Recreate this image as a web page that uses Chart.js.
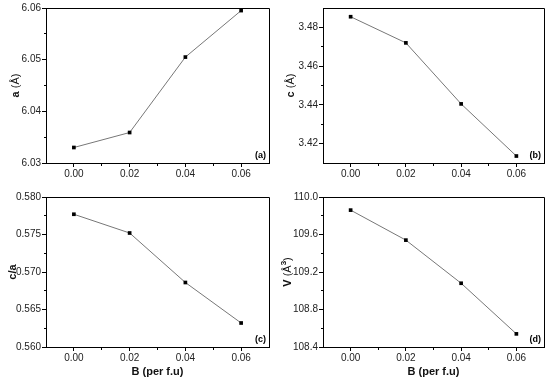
<!DOCTYPE html>
<html><head><meta charset="utf-8">
<script src="https://cdn.jsdelivr.net/npm/chart.js@4.4.0/dist/chart.umd.min.js"></script>
<style>
html,body{margin:0;padding:0;background:#fff;}
#wrap{position:relative;width:550px;height:383px;overflow:hidden;}
canvas{position:absolute;}
</style></head><body>
<div id="wrap">
<canvas id="ca" width="275" height="190" style="left:0;top:0"></canvas>
<canvas id="cb" width="275" height="190" style="left:275px;top:0"></canvas>
<canvas id="cc" width="275" height="193" style="left:0;top:190px"></canvas>
<canvas id="cd" width="275" height="193" style="left:275px;top:190px"></canvas>
</div>
<script>
// ---- data ----
const xValues = [0.00, 0.02, 0.04, 0.06];
const aValues = [6.0330, 6.0359, 6.0505, 6.0595];
const cValues = [3.4855, 3.4720, 3.4405, 3.4136];
const caValues = [0.5777, 0.5752, 0.5686, 0.5632];
const vValues = [109.86, 109.54, 109.08, 108.54];

const xTicks = [0.00, 0.02, 0.04, 0.06];
const aTicks = [6.03, 6.04, 6.05, 6.06];
const cTicks = [3.42, 3.44, 3.46, 3.48];
const caTicks = [0.560, 0.565, 0.570, 0.575, 0.580];
const vTicks = [108.4, 108.8, 109.2, 109.6, 110.0];

const xTitle = 'B (per f.u)';
const panelLabels = ['(a)', '(b)', '(c)', '(d)'];

const FAMILY = '"Liberation Sans", Arial, Helvetica, sans-serif';
Chart.defaults.font.family = FAMILY;

const ap = p => Math.round(p - 0.5) + 0.5;

const framePlugin = {
  id: 'frame',
  afterDraw(chart) {
    const o = chart.options.plugins.frame;
    const {ctx, chartArea: ca, scales: {x, y}} = chart;
    const L = ap(ca.left), R = ap(ca.right), T = ap(ca.top), B = ap(ca.bottom);
    ctx.save();
    ctx.strokeStyle = '#000';
    ctx.lineWidth = 1;
    ctx.beginPath();
    ctx.moveTo(L, T); ctx.lineTo(R, T); ctx.lineTo(R, B);
    // minor ticks x
    for (const v of o.xMinor) {
      const px = ap(x.getPixelForValue(v));
      ctx.moveTo(px, B); ctx.lineTo(px, B + 2.5);
    }
    for (const v of o.yMinor) {
      const py = ap(y.getPixelForValue(v));
      ctx.moveTo(L, py); ctx.lineTo(L - 2.5, py);
    }
    ctx.stroke();
    // panel label
    ctx.fillStyle = '#000';
    ctx.font = 'bold 9px ' + FAMILY;
    ctx.textAlign = 'right';
    ctx.textBaseline = 'middle';
    ctx.fillText(o.label, ca.right - 3, ca.bottom - 7);
    // y title with mixed weights
    const parts = o.yTitle;
    const measure = p => {
      ctx.font = (p.b ? 'bold ' : '') + (p.sup ? 8 : 11) + 'px ' + FAMILY;
      return ctx.measureText(p.t).width;
    };
    let total = 0;
    for (const p of parts) total += measure(p);
    ctx.translate(o.yTitleX, (ca.top + ca.bottom) / 2);
    ctx.rotate(-Math.PI / 2);
    ctx.textAlign = 'left';
    ctx.textBaseline = 'alphabetic';
    let cx = -total / 2;
    for (const p of parts) {
      const w = measure(p);
      ctx.fillStyle = '#111';
      ctx.fillText(p.t, cx, p.sup ? -1 : 4);
      cx += w;
    }
    ctx.restore();
  }
};

function minors(ticks, lo, hi) {
  const out = [];
  for (let i = 0; i < ticks.length - 1; i++) out.push((ticks[i] + ticks[i + 1]) / 2);
  return out.filter(v => v > lo && v < hi);
}

function makePanel(id, yValues, yTicks, yMin, yMax, dec, yTitle, yTitleX, label, showX, top, yW, xH) {
  new Chart(document.getElementById(id), {
    type: 'scatter',
    data: {
      datasets: [{
        data: xValues.map((x, i) => ({x: x, y: yValues[i]})),
        showLine: true,
        borderColor: '#777',
        borderWidth: 1,
        pointStyle: 'rect',
        pointRadius: 2.6,
        pointBackgroundColor: '#000',
        pointBorderColor: '#000',
        pointBorderWidth: 0
      }]
    },
    options: {
      responsive: false,
      animation: false,
      events: [],
      layout: {padding: {top: top, right: 6, left: 0, bottom: 0}},
      plugins: {
        legend: {display: false},
        tooltip: {enabled: false},
        frame: {
          label: label, yTitle: yTitle, yTitleX: yTitleX,
          xMinor: [0.01, 0.03, 0.05],
          yMinor: minors(yTicks, yMin, yMax)
        }
      },
      scales: {
        x: {
          type: 'linear', min: -0.01, max: 0.07,
          afterBuildTicks: s => { s.ticks = xTicks.map(v => ({value: v})); },
          afterFit: s => { s.height = xH; },
          ticks: {callback: v => Number(v).toFixed(2), font: {size: 10}, color: '#222', padding: 1, maxRotation: 0, autoSkip: false},
          grid: {drawOnChartArea: false, drawTicks: true, tickLength: 4, color: '#000', lineWidth: 1},
          border: {display: true, color: '#000', width: 1},
          title: {display: showX, text: xTitle, font: {size: 11, weight: 'bold'}, color: '#111', padding: {top: 0, bottom: 4}}
        },
        y: {
          type: 'linear', min: yMin, max: yMax,
          afterBuildTicks: s => { s.ticks = yTicks.map(v => ({value: v})); },
          afterFit: s => { s.width = yW; },
          ticks: {callback: v => Number(v).toFixed(dec), font: {size: 10}, color: '#222', padding: 1, autoSkip: false},
          grid: {drawOnChartArea: false, drawTicks: true, tickLength: 4, color: '#000', lineWidth: 1},
          border: {display: true, color: '#000', width: 1}
        }
      }
    },
    plugins: [framePlugin]
  });
}

makePanel('ca', aValues, aTicks, 6.03, 6.06, 2,
  [{t: 'a', b: true}, {t: ' (Å)', b: false}], 15, panelLabels[0], false, 8, 46, 27);
makePanel('cb', cValues, cTicks, 3.41, 3.49, 2,
  [{t: 'c', b: true}, {t: ' (Å)', b: false}], 15, panelLabels[1], false, 8, 48, 27);
makePanel('cc', caValues, caTicks, 0.560, 0.580, 3,
  [{t: 'c/a', b: true}], 12, panelLabels[2], true, 3, 46, 36);
makePanel('cd', vValues, vTicks, 108.4, 110.0, 1,
  [{t: 'V', b: true}, {t: ' (Å', b: false}, {t: '3', b: true, sup: true}, {t: ')', b: false}], 12, panelLabels[3], true, 3, 48, 36);
</script>
</body></html>
